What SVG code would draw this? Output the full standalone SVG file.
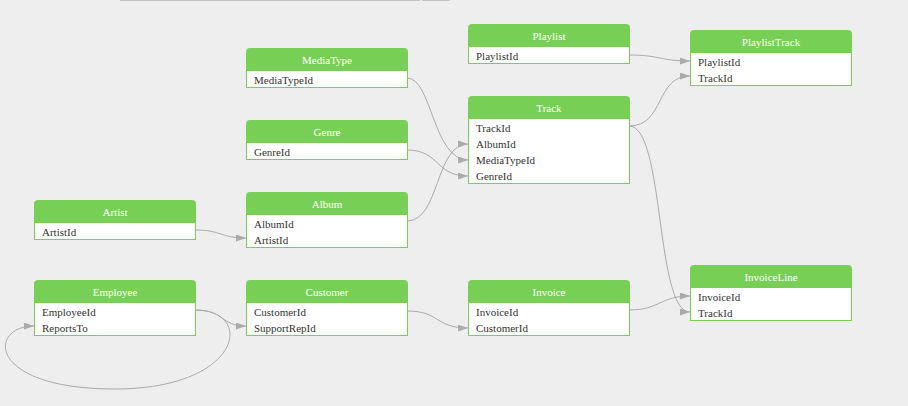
<svg xmlns="http://www.w3.org/2000/svg" width="908" height="406" viewBox="0 0 908 406">
<style>
.bg{fill:#eeeeee}
.hd{fill:#78cf55;stroke:#78cf55;stroke-width:1}
.bd{fill:#ffffff;stroke:#78cf55;stroke-width:1}
.ht{font-family:"Liberation Serif","DejaVu Serif",serif;font-size:11px;fill:#ffffff;text-anchor:middle;dominant-baseline:central}
.rt{font-family:"Liberation Serif","DejaVu Serif",serif;font-size:11px;fill:#333333;dominant-baseline:central}
.ed{fill:none;stroke:#aaaaaa;stroke-width:1;marker-end:url(#arr)}
</style>
<defs>
<marker id="arr" markerUnits="userSpaceOnUse" markerWidth="11" markerHeight="8" refX="10" refY="3.5" orient="auto">
<path d="M0,0 L10,3.5 L0,7 z" fill="#aaaaaa"/>
</marker>
</defs>
<rect class="bg" x="0" y="0" width="908" height="406"/>
<rect x="120" y="0" width="300" height="1" fill="#c4c4c4"/>
<rect x="422" y="0" width="28" height="1" fill="#c4c4c4"/>

<g id="connectors">
<path class="ed" d="M407,78 C432,78 433,160 468,160"/>
<path class="ed" d="M407,150 C440,150 435,176 468,176"/>
<path class="ed" d="M407,221 C440,221 435,144 468,144"/>
<path class="ed" d="M195,230 C222,230 220,238 246,238"/>
<path class="ed" d="M195,310 C225,310 220,326 246,326"/>
<path class="ed" d="M195,310 C256,310 242,389 115,389 C-14,389 -12,326 34,326"/>
<path class="ed" d="M407,311 C440,311 435,328 468,328"/>
<path class="ed" d="M629,55 C660,55 660,61 690,61"/>
<path class="ed" d="M629,126 C665,126 655,76 690,76"/>
<path class="ed" d="M629,126 C665,126 655,312 690,312"/>
<path class="ed" d="M629,310 C660,310 660,296 690,296"/>
</g>

<g id="MediaType">
<rect class="bd" x="246.5" y="70.5" width="161" height="17"/>
<path class="hd" d="M246.5,70.5 V51.5 Q246.5,48.5 249.5,48.5 H404.5 Q407.5,48.5 407.5,51.5 V70.5 z"/>
<text class="ht" x="327" y="60">MediaType</text>
<text class="rt" x="254" y="80">MediaTypeId</text>
</g>

<g id="Genre">
<rect class="bd" x="246.5" y="142.5" width="161" height="17"/>
<path class="hd" d="M246.5,142.5 V123.5 Q246.5,120.5 249.5,120.5 H404.5 Q407.5,120.5 407.5,123.5 V142.5 z"/>
<text class="ht" x="327" y="132">Genre</text>
<text class="rt" x="254" y="152">GenreId</text>
</g>

<g id="Album">
<rect class="bd" x="246.5" y="214.5" width="161" height="33"/>
<path class="hd" d="M246.5,214.5 V195.5 Q246.5,192.5 249.5,192.5 H404.5 Q407.5,192.5 407.5,195.5 V214.5 z"/>
<text class="ht" x="327" y="204">Album</text>
<text class="rt" x="254" y="224">AlbumId</text>
<text class="rt" x="254" y="240">ArtistId</text>
</g>

<g id="Artist">
<rect class="bd" x="34.5" y="222.5" width="161" height="17"/>
<path class="hd" d="M34.5,222.5 V203.5 Q34.5,200.5 37.5,200.5 H192.5 Q195.5,200.5 195.5,203.5 V222.5 z"/>
<text class="ht" x="115" y="212">Artist</text>
<text class="rt" x="42" y="232">ArtistId</text>
</g>

<g id="Employee">
<rect class="bd" x="34.5" y="302.5" width="161" height="33"/>
<path class="hd" d="M34.5,302.5 V283.5 Q34.5,280.5 37.5,280.5 H192.5 Q195.5,280.5 195.5,283.5 V302.5 z"/>
<text class="ht" x="115" y="292">Employee</text>
<text class="rt" x="42" y="312">EmployeeId</text>
<text class="rt" x="42" y="328">ReportsTo</text>
</g>

<g id="Customer">
<rect class="bd" x="246.5" y="302.5" width="161" height="33"/>
<path class="hd" d="M246.5,302.5 V283.5 Q246.5,280.5 249.5,280.5 H404.5 Q407.5,280.5 407.5,283.5 V302.5 z"/>
<text class="ht" x="327" y="292">Customer</text>
<text class="rt" x="254" y="312">CustomerId</text>
<text class="rt" x="254" y="328">SupportRepId</text>
</g>

<g id="Playlist">
<rect class="bd" x="468.5" y="46.5" width="161" height="17"/>
<path class="hd" d="M468.5,46.5 V27.5 Q468.5,24.5 471.5,24.5 H626.5 Q629.5,24.5 629.5,27.5 V46.5 z"/>
<text class="ht" x="549" y="36">Playlist</text>
<text class="rt" x="476" y="56">PlaylistId</text>
</g>

<g id="Track">
<rect class="bd" x="468.5" y="118.5" width="161" height="65"/>
<path class="hd" d="M468.5,118.5 V99.5 Q468.5,96.5 471.5,96.5 H626.5 Q629.5,96.5 629.5,99.5 V118.5 z"/>
<text class="ht" x="549" y="108">Track</text>
<text class="rt" x="476" y="128">TrackId</text>
<text class="rt" x="476" y="144">AlbumId</text>
<text class="rt" x="476" y="160">MediaTypeId</text>
<text class="rt" x="476" y="176">GenreId</text>
</g>

<g id="Invoice">
<rect class="bd" x="468.5" y="302.5" width="161" height="33"/>
<path class="hd" d="M468.5,302.5 V283.5 Q468.5,280.5 471.5,280.5 H626.5 Q629.5,280.5 629.5,283.5 V302.5 z"/>
<text class="ht" x="549" y="292">Invoice</text>
<text class="rt" x="476" y="312">InvoiceId</text>
<text class="rt" x="476" y="328">CustomerId</text>
</g>

<g id="PlaylistTrack">
<rect class="bd" x="690.5" y="52.5" width="161" height="33"/>
<path class="hd" d="M690.5,52.5 V33.5 Q690.5,30.5 693.5,30.5 H848.5 Q851.5,30.5 851.5,33.5 V52.5 z"/>
<text class="ht" x="771" y="42">PlaylistTrack</text>
<text class="rt" x="698" y="62">PlaylistId</text>
<text class="rt" x="698" y="78">TrackId</text>
</g>

<g id="InvoiceLine">
<rect class="bd" x="690.5" y="287.5" width="161" height="33"/>
<path class="hd" d="M690.5,287.5 V268.5 Q690.5,265.5 693.5,265.5 H848.5 Q851.5,265.5 851.5,268.5 V287.5 z"/>
<text class="ht" x="771" y="277">InvoiceLine</text>
<text class="rt" x="698" y="297">InvoiceId</text>
<text class="rt" x="698" y="313">TrackId</text>
</g>
</svg>
